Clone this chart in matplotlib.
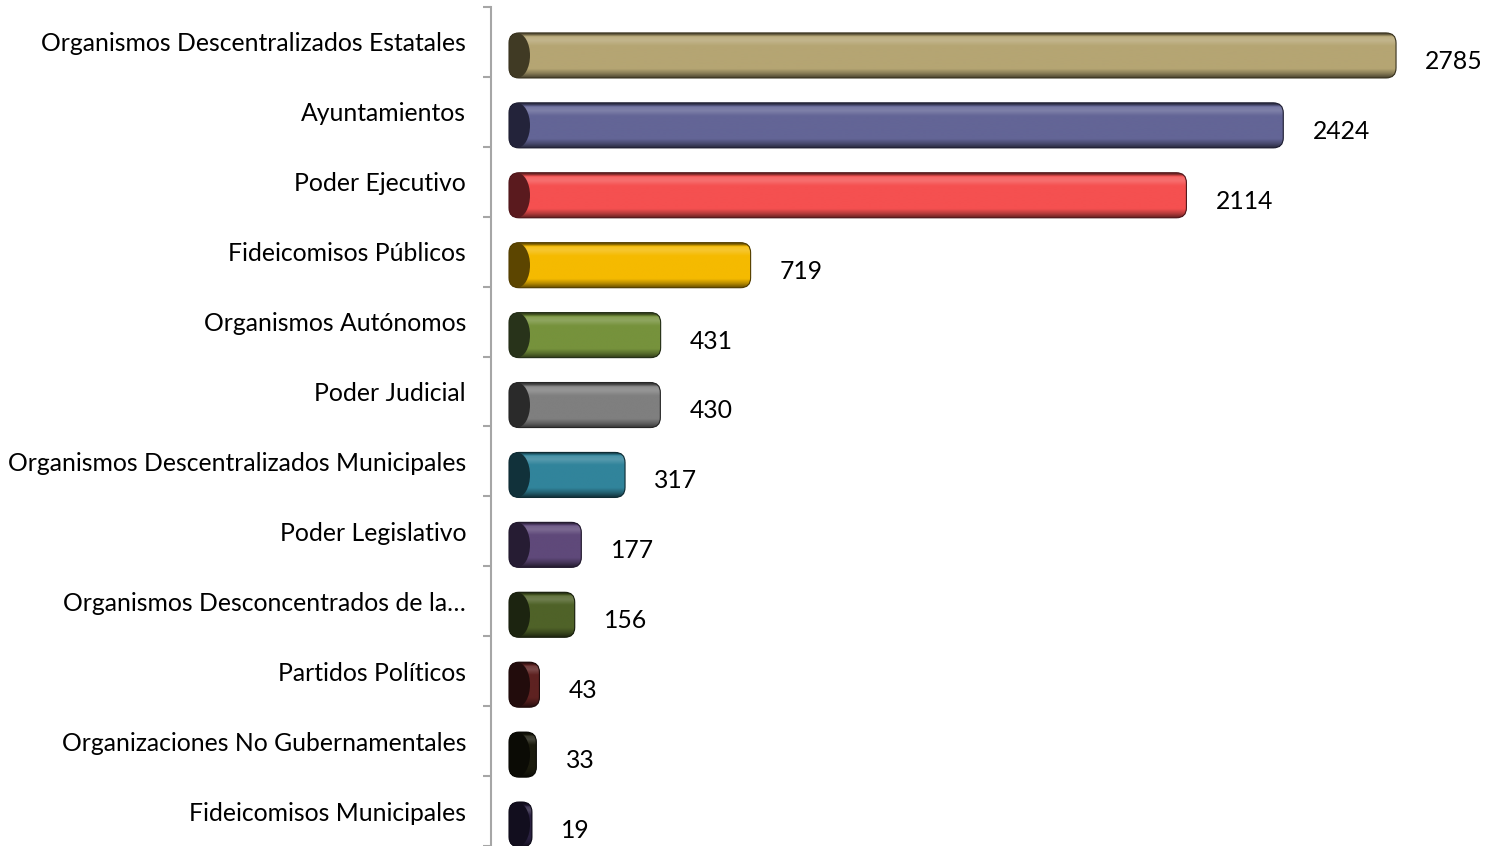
#!/usr/bin/env python3
"""
Barras horizontales estilo Excel 3D — número por tipo de sujeto obligado
Salida: out.png (1490x846)
"""

import numpy as np
import matplotlib
matplotlib.use("Agg")
import matplotlib.pyplot as plt
from matplotlib.colors import to_rgb
from matplotlib.patches import FancyBboxPatch, Ellipse, Rectangle

# datos (de arriba hacia abajo)
CATEGORIES = [
    "Organismos Descentralizados Estatales",
    "Ayuntamientos",
    "Poder Ejecutivo",
    "Fideicomisos Públicos",
    "Organismos Autónomos",
    "Poder Judicial",
    "Organismos Descentralizados Municipales",
    "Poder Legislativo",
    "Organismos Desconcentrados de la…",
    "Partidos Políticos",
    "Organizaciones No Gubernamentales",
    "Fideicomisos Municipales",
]
VALUES = [2785, 2424, 2114, 719, 431, 430, 317, 177, 156, 43, 33, 19]
FACE_COLORS = ["#B5A573", "#636596", "#F55050", "#F5BA00", "#76923C", "#7F7F7F",
               "#31849B", "#5F497A", "#4F6228", "#5E2221", "#1C1C0E", "#2A2140"]
CAP_COLORS = ["#403A24", "#23233A", "#5A1A1E", "#5C4500", "#28331A", "#2A2A2A",
              "#11313A", "#261C33", "#1C2410", "#220C0C", "#0B0B05", "#120E1E"]

FONT = ["Lato", "DejaVu Sans"]
FS = 17.8

# geometría en píxeles (dpi 100)
W_PX, H_PX = 1490, 846
AX_LEFT_PX, AX_TOP_PX = 491, 7
PX_PER_UNIT = 0.3124          # píxeles por unidad de valor
FACE_START_PX = 526           # inicio de la cara frontal
CAP_PX = 17
ROUND_PX = 10
BAR_H = 0.644                 # en ranuras
BAR_SHIFT = 0.193             # desplazamiento 3D hacia abajo

plt.rcParams["font.family"] = FONT

fig = plt.figure(figsize=(W_PX / 100, H_PX / 100), dpi=100)
ax_w_px = W_PX - AX_LEFT_PX
ax_h_px = H_PX - AX_TOP_PX
ax = fig.add_axes([AX_LEFT_PX / W_PX, 0, ax_w_px / W_PX, ax_h_px / H_PX])

n = len(CATEGORIES)
slot_px = ax_h_px / n
x_left = -(FACE_START_PX - AX_LEFT_PX) / PX_PER_UNIT
x_right = x_left + ax_w_px / PX_PER_UNIT
ux = 1 / PX_PER_UNIT          # unidades x por píxel
uy = 1 / slot_px              # unidades y por píxel
aspect = uy / ux

ypos = np.arange(n)
bars = ax.barh(ypos + BAR_SHIFT, VALUES, height=BAR_H, color="none")


def shade(rgb, f):
    rgb = np.asarray(rgb)
    if f >= 1:
        return rgb + (1 - rgb) * (f - 1)
    return rgb * f


# perfil vertical de brillo (arriba -> abajo)
t_anchor = [0.0, 0.05, 0.10, 0.18, 0.30, 0.80, 0.90, 1.0]
f_anchor = [0.35, 0.55, 1.12, 1.18, 1.0, 1.0, 0.75, 0.40]
t = np.linspace(0, 1, 120)
prof = np.interp(t, t_anchor, f_anchor)

for bar, fc, cc in zip(bars, FACE_COLORS, CAP_COLORS):
    x0, y0 = bar.get_x(), bar.get_y()
    w, h = bar.get_width(), bar.get_height()
    bar.set_visible(False)
    cap_w = CAP_PX * ux
    total_w = w + cap_w
    r = min(ROUND_PX * ux, total_w / 2)
    body = FancyBboxPatch((x0 - cap_w, y0), total_w, h,
                          boxstyle=f"round,pad=0,rounding_size={r}",
                          mutation_aspect=aspect, fc=cc, ec="none", zorder=2)
    ax.add_patch(body)
    base = to_rgb(fc)
    grad = np.array([shade(base, f) for f in prof]).reshape(-1, 1, 3)
    grad = np.clip(grad, 0, 1)
    im = ax.imshow(grad, extent=(x0 - cap_w, x0 + w, y0 + h, y0),
                   aspect="auto", origin="upper", zorder=3,
                   interpolation="bilinear")
    im.set_clip_path(body)
    # tapa oscura en forma de D
    rect = Rectangle((x0 - cap_w, y0), 8 * ux, h, fc=cc, ec="none", zorder=4)
    ax.add_patch(rect)
    rect.set_clip_path(body)
    ell = Ellipse((x0 - cap_w + 8 * ux, y0 + h / 2), 26 * ux, h,
                  fc=cc, ec="none", zorder=4)
    ax.add_patch(ell)
    ell.set_clip_path(body)
    edge = FancyBboxPatch((x0 - cap_w, y0), total_w, h,
                          boxstyle=f"round,pad=0,rounding_size={r}",
                          mutation_aspect=aspect, fc="none",
                          ec=shade(to_rgb(cc), 0.9), lw=0.8, zorder=5)
    ax.add_patch(edge)

for i, v in enumerate(VALUES):
    ax.annotate(str(v), xy=(v, i), xytext=(21, -14), textcoords="offset points",
                ha="left", va="center", fontsize=FS, color="black", family=FONT)

ax.set_xlim(x_left, x_right)
ax.set_ylim(n - 0.5, -0.5)

ax.set_yticks(ypos)
ax.set_yticklabels(CATEGORIES, fontsize=FS, family=FONT)
ax.tick_params(axis="y", which="major", length=0, pad=18)
ax.set_yticks(np.arange(n + 1) - 0.5, minor=True)
ax.tick_params(axis="y", which="minor", length=6, width=1.5, color="#A6A6A6",
               direction="out")
ax.set_xticks([])

for s in ["top", "right", "bottom"]:
    ax.spines[s].set_visible(False)
ax.spines["left"].set_color("#A6A6A6")
ax.spines["left"].set_linewidth(1.5)
ax.patch.set_alpha(0)

fig.savefig("out.png", dpi=100)
